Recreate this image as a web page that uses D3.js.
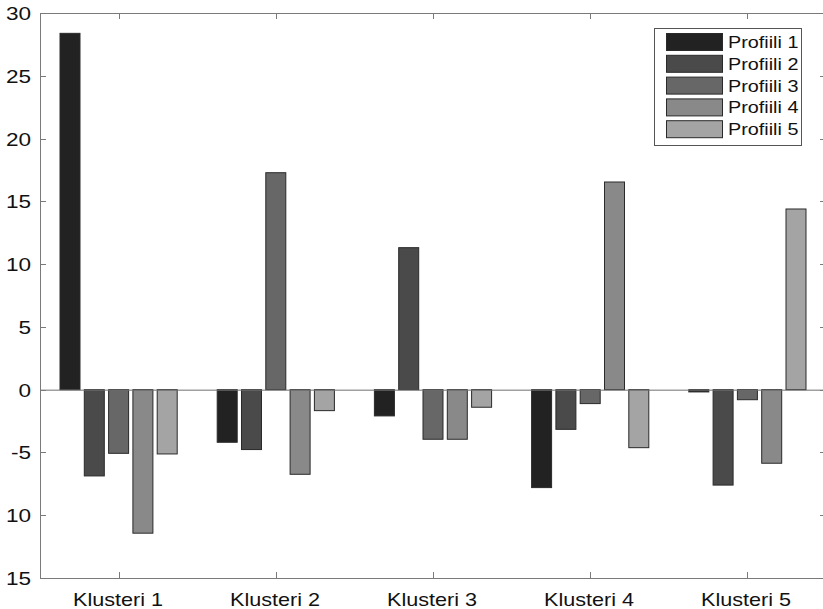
<!DOCTYPE html>
<html><head><meta charset="utf-8">
<script src="https://cdn.jsdelivr.net/npm/d3@7"></script>
<style>body{margin:0;background:#fff}svg{display:block}text{font-family:"Liberation Sans",Arial,sans-serif;fill:#111}</style>
</head><body>
<svg id="c" width="823" height="609"></svg>
<script>
const categories = ["Klusteri 1","Klusteri 2","Klusteri 3","Klusteri 4","Klusteri 5"];
const profiles = ["Profiili 1","Profiili 2","Profiili 3","Profiili 4","Profiili 5"];
const profiili1 = [28.38, -4.19, -2.09, -7.80, -0.18];
const profiili2 = [-6.87, -4.77, 11.31, -3.16, -7.60];
const profiili3 = [-5.07, 17.28, -3.95, -1.11, -0.80];
const profiili4 = [-11.43, -6.74, -3.95, 16.54, -5.86];
const profiili5 = [-5.12, -1.67, -1.40, -4.62, 14.39];
const series = [profiili1, profiili2, profiili3, profiili4, profiili5];
const colors = ["#222222","#4a4a4a","#676767","#898989","#a4a4a4"];
const yTickValues = [30,25,20,15,10,5,0,-5,-10,-15];
const yTickLabels = ["30","25","20","15","10","5","0","-5","10","15"];

const svg = d3.select("#c");
const L = 40, T = 13, R = 826, B = 578;
const x = d3.scaleBand().domain(categories).range([L, R]);
const xi = d3.scaleBand().domain(profiles).range([-60.75, 60.75]).paddingInner(0.177).paddingOuter(0.0885);
const y = d3.scaleLinear().domain([-15, 30]).range([B, T]);

// bars
const data = [];
categories.forEach((c, ci) => profiles.forEach((p, pi) => data.push({c, p, pi, v: series[pi][ci]})));
svg.append("g").selectAll("rect").data(data).join("rect")
  .attr("x", d => x(d.c) + x.bandwidth()/2 + xi(d.p))
  .attr("width", xi.bandwidth())
  .attr("y", d => y(Math.max(0, d.v)))
  .attr("height", d => Math.abs(y(d.v) - y(0)))
  .attr("fill", d => colors[d.pi])
  .attr("stroke", "#2a2a2a").attr("stroke-width", 1);

// zero line
svg.append("line").attr("x1", L).attr("x2", R).attr("y1", y(0)+0.5).attr("y2", y(0)+0.5)
  .attr("stroke", "#707070").attr("stroke-width", 1);

const axisColor = "#7a7a7a";
// frame
svg.append("rect").attr("x", L+0.5).attr("y", T+0.5).attr("width", R-L).attr("height", B-T)
  .attr("fill", "none").attr("stroke", axisColor);

// y axis ticks (left, inward) and right ticks
const yTicks = svg.append("g");
yTickValues.forEach((v, i) => {
  const yy = Math.round(y(v)) + 0.5;
  yTicks.append("line").attr("x1", L).attr("x2", L+6).attr("y1", yy).attr("y2", yy).attr("stroke", axisColor);
  yTicks.append("line").attr("x1", R-6).attr("x2", R).attr("y1", yy).attr("y2", yy).attr("stroke", axisColor);
  yTicks.append("text").attr("text-anchor", "end").attr("font-size", 18.5)
    .attr("transform", `translate(31,${yy+6.5}) scale(1.22,1)`).text(yTickLabels[i]);
});

// x ticks top & bottom, labels
const xTicks = svg.append("g");
categories.forEach(c => {
  const xx = Math.round(x(c) + x.bandwidth()/2) + 0.5;
  xTicks.append("line").attr("x1", xx).attr("x2", xx).attr("y1", T).attr("y2", T+6).attr("stroke", axisColor);
  xTicks.append("line").attr("x1", xx).attr("x2", xx).attr("y1", B-6).attr("y2", B).attr("stroke", axisColor);
  xTicks.append("text").attr("text-anchor", "middle").attr("font-size", 18)
    .attr("transform", `translate(${xx-1.5},606) scale(1.2,1)`).text(c);
});

// legend
const lg = svg.append("g");
lg.append("rect").attr("x", 654.5).attr("y", 28.5).attr("width", 147).attr("height", 117)
  .attr("fill", "#fff").attr("stroke", "#555");
profiles.forEach((p, i) => {
  const yy = 33.5 + i*21.8;
  lg.append("rect").attr("x", 666.5).attr("y", yy).attr("width", 56).attr("height", 17)
    .attr("fill", colors[i]).attr("stroke", "#2a2a2a");
  lg.append("text").attr("font-size", 16.5)
    .attr("transform", `translate(728,${yy+14.5}) scale(1.2,1)`).text(p);
});
</script>
</body></html>
